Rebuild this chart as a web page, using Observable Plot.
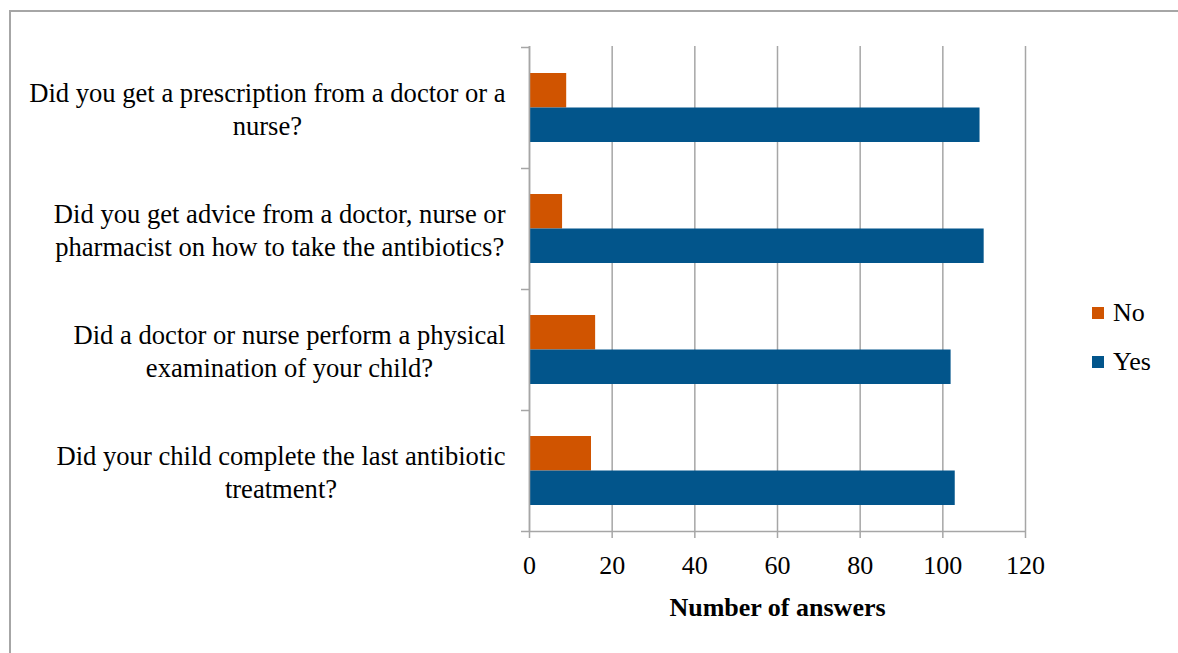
<!DOCTYPE html>
<html><head><meta charset="utf-8">
<script src="https://cdn.jsdelivr.net/npm/d3@7"></script>
<script src="https://cdn.jsdelivr.net/npm/@observablehq/plot@0.6"></script>
<style>
body{margin:0;background:#fff;}
#wrap{position:relative;width:1178px;height:653px;overflow:hidden;font-family:"Liberation Serif","Times New Roman",serif;}
#border{position:absolute;left:9px;top:10px;right:-5px;bottom:-5px;border-left:2px solid #a6a6a6;border-top:2px solid #a6a6a6;}
#chart{position:absolute;left:0;top:0;}
.leg{position:absolute;left:1092px;font-size:26px;color:#000;display:flex;align-items:center;line-height:1;}
.leg .sw{width:12px;height:12px;margin-right:9px;}
</style></head>
<body>
<div id="wrap"><div id="border"></div><div id="chart"></div>
<div id="legend"></div></div>
<script>
const questions = [
  "Did you get a prescription from a doctor or a nurse?",
  "Did you get advice from a doctor, nurse or pharmacist on how to take the antibiotics?",
  "Did a doctor or nurse perform a physical examination of your child?",
  "Did your child complete the last antibiotic treatment?"
];
const labelLines = [
  ["Did you get a prescription from a doctor or a", "nurse?"],
  ["Did you get advice from a doctor, nurse or", "pharmacist on how to take the antibiotics?"],
  ["Did a doctor or nurse perform a physical", "examination of your child?"],
  ["Did your child complete the last antibiotic", "treatment?"]
];
const noValues = [9, 8, 16, 15];
const yesValues = [109, 110, 102, 103];
const seriesNames = ["No", "Yes"];
const seriesColors = ["#d05400", "#02558b"];
const xTicks = [0, 20, 40, 60, 80, 100, 120];
const xTitle = "Number of answers";

const rows = questions.map((q, i) => ({q, label: labelLines[i], no: noValues[i], yes: yesValues[i]}));
const grid = "#a6a6a6";
const frameW = 1178 - 529 - 153;
const labelSize = 26.6;
const ctx = document.createElement("canvas").getContext("2d");
ctx.font = labelSize + "px 'Liberation Serif'";
const labelMarks = rows.map(r => {
  const w = d3.max(r.label, s => ctx.measureText(s).width);
  return Plot.text([r], {y: "q", x: 0, text: d => d.label.join("\n"), textAnchor: "middle", lineAnchor: "middle",
    lineHeight: 1.22, dx: -24 - w / 2, fontSize: labelSize, fill: "#000"});
});

const chart = Plot.plot({
  width: 1178, height: 653,
  marginLeft: 529, marginRight: 153, marginTop: 46, marginBottom: 122,
  x: {domain: [0, 120]},
  y: {domain: questions, padding: 0, axis: null},
  style: {fontFamily: "'Liberation Serif', serif", fontSize: "26px", color: "#000", background: "transparent", overflow: "visible"},
  marks: [
    Plot.gridX(xTicks, {stroke: grid, strokeOpacity: 1, strokeWidth: 1.5}),
    Plot.axisX(xTicks, {tickSize: 7, tickPadding: 17, stroke: grid, strokeWidth: 1.5, strokeOpacity: 1, fontSize: 26, label: null, fill: "#000"}),
    Plot.barX(rows, {y: "q", x: "no", fill: seriesColors[0], insetTop: 26, insetBottom: 60.5}),
    Plot.barX(rows, {y: "q", x: "yes", fill: seriesColors[1], insetTop: 60.5, insetBottom: 26}),
    Plot.ruleX([0], {stroke: grid, strokeWidth: 1.5}),
    Plot.tickY(questions, {y: d => d, dy: -60.5, insetLeft: -8, insetRight: frameW, stroke: grid, strokeWidth: 1.5}),
    Plot.tickY(questions.slice(-1), {y: d => d, dy: 60.5, insetLeft: -8, stroke: grid, strokeWidth: 1.5}),
    ...labelMarks,
    Plot.text([xTitle], {frameAnchor: "bottom", text: d => d, dy: 76, lineAnchor: "middle", fontWeight: "bold", fontSize: 26, fill: "#000"})
  ]
});
document.getElementById("chart").appendChild(chart);

const legend = document.getElementById("legend");
const legTops = [300, 349];
seriesNames.forEach((s, i) => {
  const d = document.createElement("div");
  d.className = "leg";
  d.style.top = legTops[i] + "px";
  d.innerHTML = `<span class="sw" style="background:${seriesColors[i]}"></span><span>${s}</span>`;
  legend.appendChild(d);
});
</script>
</body></html>
